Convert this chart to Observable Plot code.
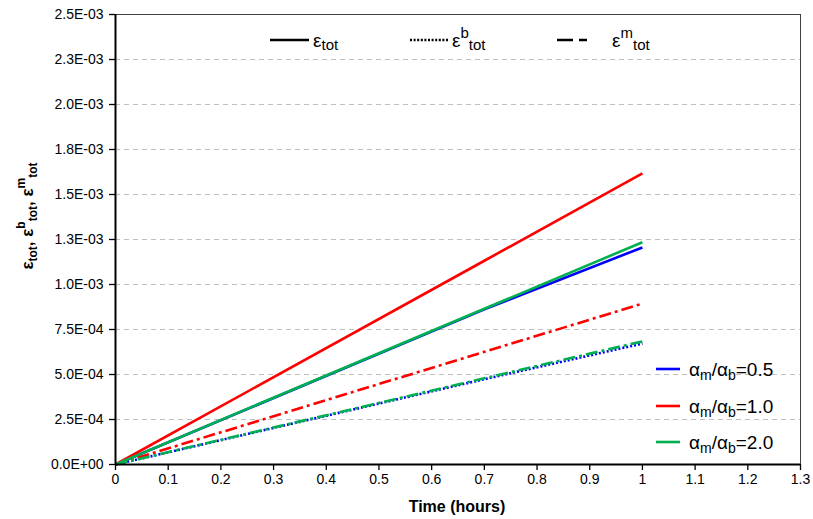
<!DOCTYPE html>
<html><head><meta charset="utf-8">
<script src="https://cdn.jsdelivr.net/npm/d3@7"></script>
<script src="https://cdn.jsdelivr.net/npm/@observablehq/plot@0.6"></script>
<style>body{margin:0;background:#fff} svg{display:block}</style>
</head><body><div id="chart"></div>
<script>
// ---- data ----
const ratios = ["0.5", "1.0", "2.0"];
const ratioColors = ["#0000ff", "#ff0000", "#00b050"];
const times = [0, 0.7, 1];
const tot_05 = [0, 0.000862, 0.001206];   // blue solid
const b_05   = [0, 0.000474, 0.000672];   // blue dotted
const tot_10 = [0, 0.001132, 0.001617];   // red solid
const m_10   = [0, 0.000626, 0.000894];   // red dash-dot
const tot_20 = [0, 0.000865, 0.001235];   // green solid
const m_20   = [0, 0.000479, 0.000684];   // green dash-dot
const yTicks = [0, 0.00025, 0.0005, 0.00075, 0.001, 0.00125, 0.0015, 0.00175, 0.002, 0.00225, 0.0025];
const yTickLabels = ["0.0E+00","2.5E-04","5.0E-04","7.5E-04","1.0E-03","1.3E-03","1.5E-03","1.8E-03","2.0E-03","2.3E-03","2.5E-03"];
const xTicks = [0,0.1,0.2,0.3,0.4,0.5,0.6,0.7,0.8,0.9,1,1.1,1.2,1.3];
const xTickLabels = ["0","0.1","0.2","0.3","0.4","0.5","0.6","0.7","0.8","0.9","1","1.1","1.2","1.3"];

// tidy table
const series = [
  {ratio:"0.5", kind:"b",   vals:b_05},
  {ratio:"0.5", kind:"tot", vals:tot_05},
  {ratio:"1.0", kind:"m",   vals:m_10},
  {ratio:"1.0", kind:"tot", vals:tot_10},
  {ratio:"2.0", kind:"m",   vals:m_20},
  {ratio:"2.0", kind:"tot", vals:tot_20}
];
const rows = [];
series.forEach((s, si) => times.forEach((t, i) => rows.push({sid: si, ratio: s.ratio, kind: s.kind, time: t, value: s.vals[i]})));
const dashes = {tot: null, b: "2,2", m: "12,4,3,4"};

const lineMarks = series.map((s, si) => Plot.line(rows.filter(r => r.sid === si), {
  x: "time", y: "value", stroke: "ratio", strokeWidth: 2.6,
  strokeDasharray: dashes[s.kind], strokeLinecap: "butt"
}));

const fontFam = "'Liberation Sans', Arial, sans-serif";
const chart = Plot.plot({
  width: 813, height: 519,
  marginLeft: 115, marginRight: 13, marginTop: 14, marginBottom: 55,
  style: {fontFamily: fontFam, fontSize: "14px", color: "#000", background: "#fff"},
  x: {domain: [0, 1.3], label: null},
  y: {domain: [0, 0.0025], label: null},
  color: {domain: ratios, range: ratioColors},
  marks: [
    Plot.gridY(yTicks.slice(1, -1), {stroke: "#bfbfbf", strokeOpacity: 1, strokeDasharray: "5,4", strokeWidth: 1}),
    Plot.frame({stroke: "#404040", strokeWidth: 1}),
    ...lineMarks,
    Plot.axisY(yTicks, {tickSize: 6, tickPadding: 6, tickFormat: d => yTickLabels[yTicks.indexOf(d)], label: null, stroke: "#000", strokeWidth: 1.3, fontSize: 14}),
    Plot.axisX(xTicks, {tickSize: 6, tickPadding: 4, tickFormat: d => xTickLabels[xTicks.indexOf(d)], label: null, stroke: "#000", strokeWidth: 1.3, fontSize: 14}),
    Plot.ruleX([0], {stroke: "#000", strokeWidth: 2}),
    Plot.ruleY([0], {stroke: "#000", strokeWidth: 2})
  ]
});
document.getElementById("chart").appendChild(chart);

// ---- text with sub/superscripts ----
const svg = d3.select(chart);
function rich(parent, x, y, parts, opt) {
  const big = opt.size, small = opt.small;
  const t = parent.append("text").attr("x", x).attr("y", y)
    .attr("font-family", opt.family || fontFam).attr("font-weight", opt.weight || "normal")
    .attr("fill", "#000").attr("text-anchor", opt.anchor || "start");
  if (opt.transform) t.attr("transform", opt.transform);
  let cur = 0;
  for (const p of parts) {
    const off = p.k === "sub" ? opt.sub : p.k === "sup" ? -opt.sup : 0;
    t.append("tspan").attr("dy", off - cur).attr("font-size", p.k ? small : big).text(p.t);
    cur = off;
  }
  return t;
}

// y-axis title
rich(svg, 0, 0, [
  {t:"ε"},{t:"tot",k:"sub"},{t:", ε"},{t:"b",k:"sup"},{t:"tot",k:"sub"},{t:", ε"},{t:"m",k:"sup"},{t:"tot",k:"sub"}
], {size: 17, small: 12, sub: 4, sup: 8, weight: "bold", anchor: "middle", transform: "translate(33,216) rotate(-90)"});

// x-axis title
svg.append("text").attr("x", 457).attr("y", 512).attr("text-anchor", "middle")
  .attr("font-family", fontFam).attr("font-weight", "bold").attr("font-size", 16).text("Time (hours)");

// top legend (line styles)
const styleLegend = [
  {kind:"tot", x1:270, x2:309, tx:313, parts:[{t:"ε"},{t:"tot",k:"sub"}]},
  {kind:"b",   x1:410, x2:448, tx:452, parts:[{t:"ε"},{t:"b",k:"sup"},{t:"tot",k:"sub"}]},
  {kind:"m",   x1:557, x2:597, tx:612, parts:[{t:"ε"},{t:"m",k:"sup"},{t:"tot",k:"sub"}]}
];
styleLegend.forEach(d => {
  svg.append("line").attr("x1", d.x1).attr("x2", d.x2).attr("y1", 40).attr("y2", 40)
    .attr("stroke", "#000").attr("stroke-width", 2.6).attr("stroke-dasharray", d.kind === "b" ? "2,1.6" : d.kind === "m" ? "16,6,8,100" : null);
  rich(svg, d.tx, 47, d.parts, {size: 19, small: 15, sub: 3, sup: 9});
});

// right legend (ratios)
ratios.forEach((r, i) => {
  const y = [369, 406, 442][i];
  svg.append("line").attr("x1", 656).attr("x2", 680).attr("y1", y).attr("y2", y)
    .attr("stroke", ratioColors[i]).attr("stroke-width", 2.6);
  rich(svg, 689, y + 7, [{t:"α"},{t:"m",k:"sub"},{t:"/α"},{t:"b",k:"sub"},{t:"=" + r}], {size: 19, small: 14, sub: 4, sup: 0});
});
</script>
</body></html>
